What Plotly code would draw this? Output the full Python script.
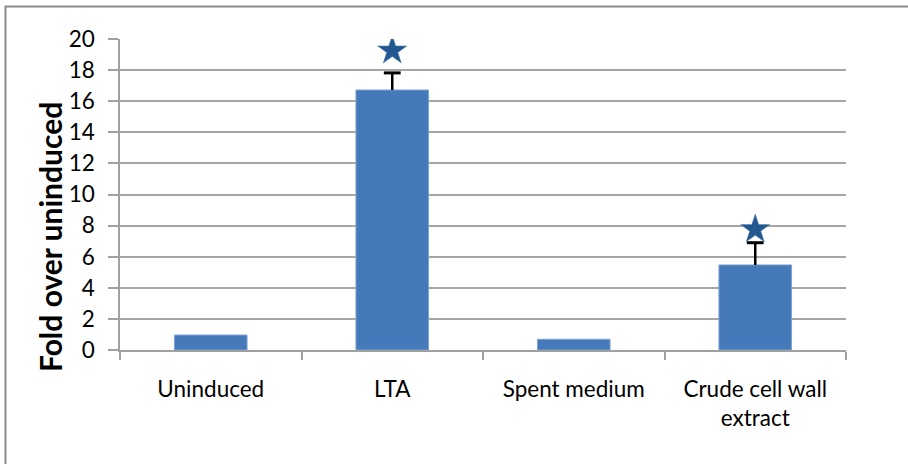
import plotly.graph_objects as go

categories = ["Uninduced", "LTA", "Spent medium", "Crude cell wall<br>extract"]
fold_values = [0.96, 16.72, 0.69, 5.47]
error_plus = [0, 1.1, 0, 1.43]
star_categories = ["LTA", "Crude cell wall<br>extract"]
star_values = [19.25, 7.76]
y_ticks = [0, 2, 4, 6, 8, 10, 12, 14, 16, 18, 20]
y_title = "Fold over uninduced"

W, H = 908, 464
L, R, T, B = 120, 62, 39, 114
pw, ph = W - L - R, H - T - B

fig = go.Figure()
fig.add_trace(go.Bar(
    x=categories, y=fold_values,
    marker=dict(color="#4579BA", line=dict(color="#7FA3D2", width=1)),
    showlegend=False,
))

# upward-only error bars: stem from bar top to bar top + error, with a cap
stem_x, stem_y, cap_x, cap_y = [], [], [], []
for c, v, e in zip(categories, fold_values, error_plus):
    if e > 0:
        stem_x += [c, c, None]
        stem_y += [v, v + e, None]
        cap_x.append(c)
        cap_y.append(v + e)
fig.add_trace(go.Scatter(x=stem_x, y=stem_y, mode="lines",
                         line=dict(color="#000000", width=2.5),
                         showlegend=False, hoverinfo="skip"))
fig.add_trace(go.Scatter(x=cap_x, y=cap_y, mode="markers",
                         marker=dict(symbol="line-ew", size=12,
                                     line=dict(color="#000000", width=3)),
                         showlegend=False, hoverinfo="skip"))

fig.add_trace(go.Scatter(
    x=star_categories, y=star_values, mode="markers",
    marker=dict(symbol="star", size=22, color="#23578F",
                line=dict(color="#5B82B0", width=0.5)),
    showlegend=False,
))

# outer chart border
fig.add_shape(type="rect", xref="paper", yref="paper",
              x0=(5.5 - L) / pw, x1=(W + 20 - L) / pw,
              y0=-(H + 20 - T - ph) / ph, y1=(H - B - 6.5) / ph,
              line=dict(color="#8C8C8C", width=2), fillcolor="rgba(0,0,0,0)",
              layer="above")

font_family = "Lato, 'Liberation Sans', sans-serif"

# y-axis title (placed like the original, slightly below the plot centre)
fig.add_annotation(text="<b>" + y_title + "</b>", textangle=-90,
                   xref="paper", yref="paper",
                   x=(50 - L) / pw, y=(H - B - 237) / ph,
                   xanchor="center", yanchor="middle", showarrow=False,
                   font=dict(size=30, family=font_family, color="#000000"))

fig.update_layout(
    width=W, height=H,
    margin=dict(l=L, r=R, t=T, b=B, pad=0),
    paper_bgcolor="white", plot_bgcolor="white",
    bargap=0.6,
    font=dict(family=font_family, color="#000000"),
    xaxis=dict(
        type="category", tickson="boundaries", ticks="outside", ticklen=8,
        tickcolor="#A0A0A0", tickwidth=1.5,
        showline=True, linecolor="#A0A0A0", linewidth=1.5,
        showgrid=False, tickfont=dict(size=22.5, family=font_family),
        ticklabelstandoff=18,
    ),
    yaxis=dict(
        range=[0, 20], tickvals=y_ticks, ticks="outside", ticklen=10,
        tickcolor="#A0A0A0", tickwidth=1.5,
        showline=True, linecolor="#A0A0A0", linewidth=1.5,
        showgrid=True, gridcolor="#A6A6A6", gridwidth=1.5,
        zeroline=False,
        tickfont=dict(size=22.5, family=font_family),
        ticklabelstandoff=9,
    ),
)

fig.write_html("out.html")
